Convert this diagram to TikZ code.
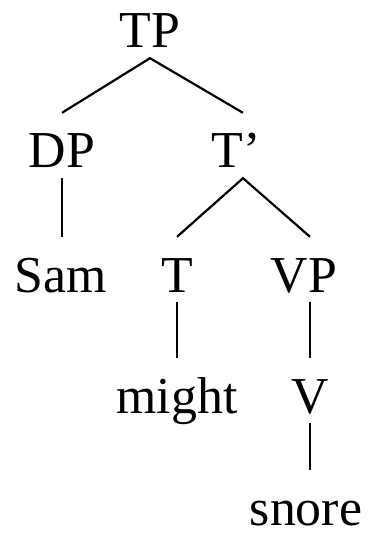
\documentclass[tikz,border=0pt]{standalone}
\usepackage{fontspec}
\setmainfont{Liberation Serif}
\usepackage{tikz}
\usetikzlibrary{positioning}

\begin{document}
\begin{tikzpicture}[
    x=1bp, y=-1bp,
    every node/.style={
        anchor=base,
        inner sep=0pt,
        text height=55bp,
        text depth=10bp,
        font=\fontsize{52}{60}\selectfont
    },
    branch/.style={line width=2.2bp}
]
\useasboundingbox (0,0) rectangle (371,536);
\node (TP)    at (150,48)  {TP};
\node (DP)    at (62,168)  {DP};
\node (Tbar)  at (236,168) {T'};
\node (Sam)   at (61,292)  {Sam};
\node (T)     at (177,292) {T};
\node (VP)    at (304,292) {VP};
\node (might) at (177,413) {might};
\node (V)     at (310,413) {V};
\node[text depth=0pt] (snore) at (306,525) {snore};

\draw[branch] (DP.north) -- (TP.south) -- ([xshift=7bp]Tbar.north);
\draw[branch] (DP.south) -- (DP.south |- Sam.north);
\draw[branch] (T.north) -- ([xshift=7bp]Tbar.south) -- (V.north |- VP.north);
\draw[branch] (T.south) -- (T.south |- might.north);
\draw[branch] (V.north |- VP.south) -- (V.north);
\draw[branch] (V.south) -- (V.south |- snore.north);
\end{tikzpicture}
\end{document}
